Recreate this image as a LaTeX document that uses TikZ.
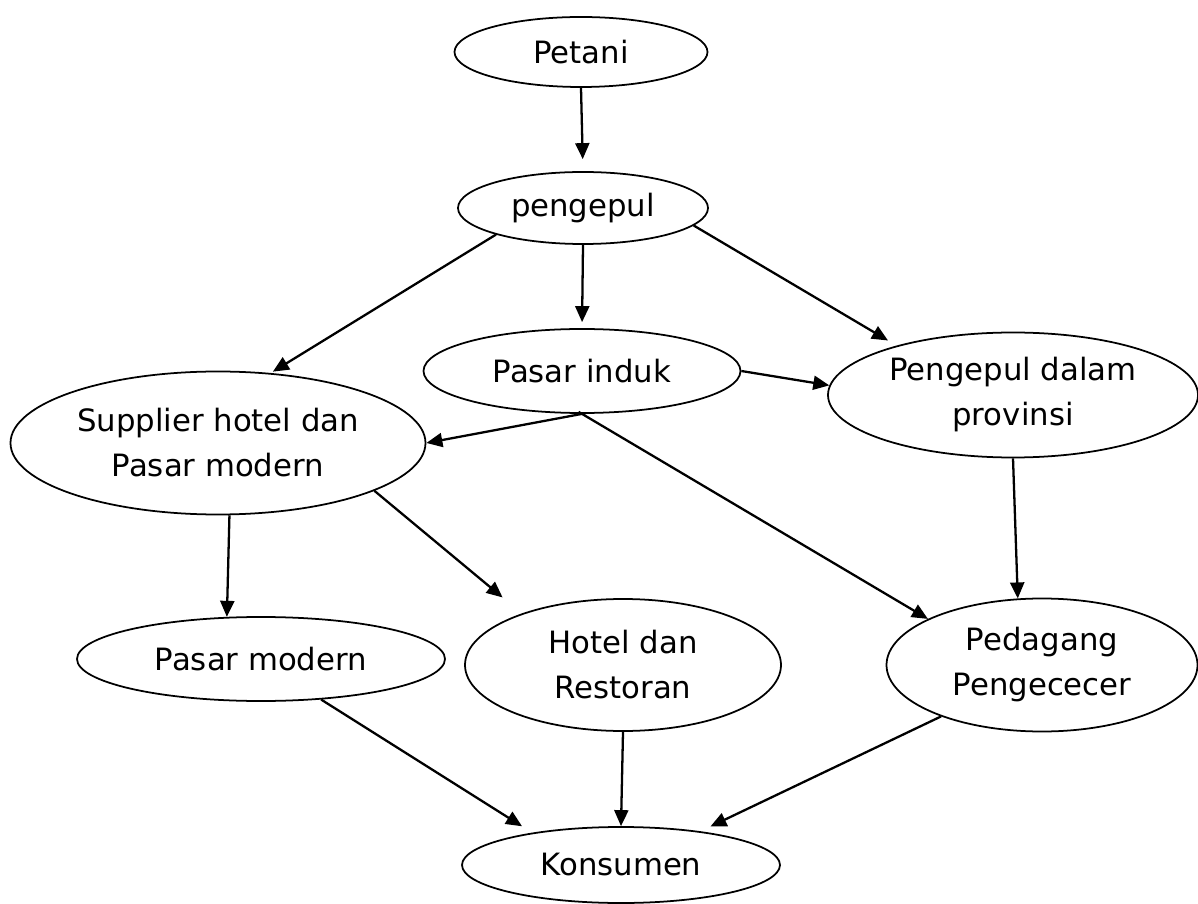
\documentclass[tikz,border=0pt]{standalone}
\usepackage{fontspec}
\setmainfont{DejaVu Sans}
\usepackage{tikz}
\usetikzlibrary{arrows.meta,shapes.geometric}
\tikzset{
  chain node/.style={ellipse,draw=black,line width=1pt,inner sep=0pt,
    align=center,font=\fontsize{17.5}{25.6}\selectfont},
  chain arrow/.style={-{Triangle[length=0.32cm,width=0.28cm]},draw=black,line width=1.3pt}
}

\begin{document}
\begin{tikzpicture}
  \useasboundingbox (0,0) rectangle (23.96,-18.08);
  \node[chain node,minimum width=5.06cm,minimum height=1.40cm] (petani) at (11.62,-1.04) {Petani};
  \node[chain node,minimum width=5.00cm,minimum height=1.44cm] (pengepul) at (11.66,-4.16) {pengepul};
  \node[chain node,minimum width=6.34cm,minimum height=1.68cm] (induk) at (11.64,-7.42) {Pasar induk};
  \node[chain node,minimum width=7.40cm,minimum height=2.50cm] (provinsi) at (20.26,-7.90) {Pengepul dalam\\provinsi};
  \node[chain node,minimum width=8.30cm,minimum height=2.86cm] (supplier) at (4.36,-8.86) {Supplier hotel dan\\Pasar modern};
  \node[chain node,minimum width=7.36cm,minimum height=1.68cm] (pmodern) at (5.22,-13.18) {Pasar modern};
  \node[chain node,minimum width=6.32cm,minimum height=2.64cm] (hotel) at (12.46,-13.30) {Hotel dan\\Restoran};
  \node[chain node,minimum width=6.22cm,minimum height=2.66cm] (pedagang) at (20.84,-13.30) {Pedagang\\Pengececer};
  \node[chain node,minimum width=6.36cm,minimum height=1.52cm] (konsumen) at (12.42,-17.30) {Konsumen};
  \draw[chain arrow,shorten >=0.24cm] (petani.south) -- (pengepul.north);
  \draw[chain arrow,shorten >=0.12cm] (pengepul.south) -- (induk.north);
  \draw[chain arrow,shorten >=0.05cm] (pengepul.197) -- (supplier.53);
  \draw[chain arrow,shorten >=0.2cm] (pengepul.-9) -- (provinsi.157);
  \draw[chain arrow] (induk.east) -- (provinsi.177);
  \draw[chain arrow,shorten <=-0.08cm] (induk.south) -- (supplier.east);
  \draw[chain arrow,shorten <=-0.08cm] (induk.south) -- (pedagang.158);
  \draw[chain arrow] (provinsi.south) -- (pedagang.110);
  \draw[chain arrow] (supplier.-81) -- (pmodern.129);
  \draw[chain arrow,shorten >=0.5cm] (supplier.-17) -- (hotel.153);
  \draw[chain arrow] (hotel.south) -- (konsumen.north);
  \draw[chain arrow,shorten >=0.24cm] (pmodern.-34) -- (konsumen.160);
  \draw[chain arrow,shorten >=0.22cm] (pedagang.207) -- (konsumen.23);
\end{tikzpicture}
\end{document}
